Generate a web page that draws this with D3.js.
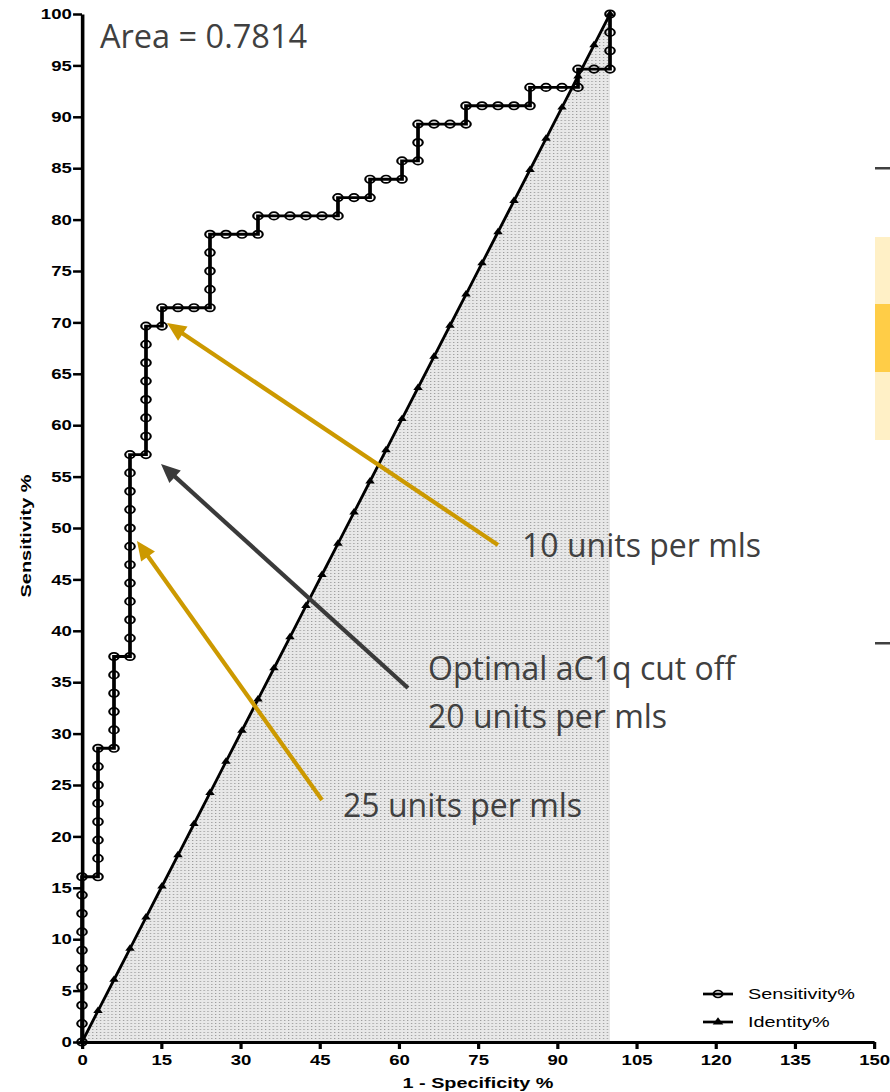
<!DOCTYPE html>
<html>
<head>
<meta charset="utf-8">
<script src="https://cdn.jsdelivr.net/npm/d3@7"></script>
<style>
  html, body { margin: 0; padding: 0; background: #ffffff; }
  svg { display: block; }
</style>
</head>
<body>
<svg id="chart" width="890" height="1092"></svg>
<script>
// ---------------- DATA ----------------
// ROC curve points (1 - Specificity %, Sensitivity %)
const rocFpr = [
  0,0,0,0,0,0,0,0,0,0,
  3.03,3.03,3.03,3.03,3.03,3.03,3.03,3.03,
  6.06,6.06,6.06,6.06,6.06,6.06,
  9.09,9.09,9.09,9.09,9.09,9.09,9.09,9.09,9.09,9.09,9.09,9.09,
  12.12,12.12,12.12,12.12,12.12,12.12,12.12,12.12,
  15.15,15.15,
  18.18,21.21,24.24,
  24.24,24.24,24.24,24.24,
  27.27,30.30,33.33,
  33.33,
  36.36,39.39,42.42,45.45,48.48,
  48.48,
  51.52,54.55,
  54.55,
  57.58,60.61,
  60.61,
  63.64,
  63.64,63.64,
  66.67,69.70,72.73,
  72.73,
  75.76,78.79,81.82,84.85,
  84.85,
  87.88,90.91,93.94,
  93.94,
  96.97,100,
  100,100,100
];
const rocSens = [
  0,1.79,3.57,5.36,7.14,8.93,10.71,12.5,14.29,16.07,
  16.07,17.86,19.64,21.43,23.21,25,26.79,28.57,
  28.57,30.36,32.14,33.93,35.71,37.5,
  37.5,39.29,41.07,42.86,44.64,46.43,48.21,50,51.79,53.57,55.36,57.14,
  57.14,58.93,60.71,62.5,64.29,66.07,67.86,69.64,
  69.64,71.43,
  71.43,71.43,71.43,
  73.21,75,76.79,78.57,
  78.57,78.57,78.57,
  80.36,
  80.36,80.36,80.36,80.36,80.36,
  82.14,
  82.14,82.14,
  83.93,
  83.93,83.93,
  85.71,
  85.71,
  87.5,89.29,
  89.29,89.29,89.29,
  91.07,
  91.07,91.07,91.07,91.07,
  92.86,
  92.86,92.86,92.86,
  94.64,
  94.64,94.64,
  96.43,98.21,100
];
// Identity (reference) line points
const identityPct = [
  0,3.03,6.06,9.09,12.12,15.15,18.18,21.21,24.24,27.27,30.30,33.33,
  36.36,39.39,42.42,45.45,48.48,51.52,54.55,57.58,60.61,63.64,66.67,
  69.70,72.73,75.76,78.79,81.82,84.85,87.88,90.91,93.94,96.97,100
];
const xTicks = [0,15,30,45,60,75,90,105,120,135,150];
const yTicks = [0,5,10,15,20,25,30,35,40,45,50,55,60,65,70,75,80,85,90,95,100];
const seriesNames = ["Sensitivity%", "Identity%"];
const areaLabel = "Area = 0.7814";
const annotations = ["10 units per mls", "Optimal aC1q cut off", "20 units per mls", "25 units per mls"];

// ---------------- DRAW ----------------
const SX = 1.28; // the original figure is stretched horizontally
const svg = d3.select("#chart");
const defs = svg.append("defs");
const pat = defs.append("pattern").attr("id", "dots")
  .attr("patternUnits", "userSpaceOnUse").attr("width", 3).attr("height", 3);
pat.append("rect").attr("width", 3).attr("height", 3).attr("fill", "#e8e8e8");
pat.append("rect").attr("width", 1).attr("height", 1).attr("fill", "#9a9a9a");

const g = svg.append("g").attr("transform", `scale(${SX},1)`);

const x = d3.scaleLinear().domain([0, 150]).range([82 / SX, 874 / SX]);
const y = d3.scaleLinear().domain([0, 100]).range([1042, 14]);

const rocData = rocFpr.map((v, i) => ({x: v, y: rocSens[i]}));
const idData = identityPct.map(v => ({x: v, y: v}));

// shaded area under identity
g.append("path")
  .datum(idData)
  .attr("fill", "url(#dots)")
  .attr("d", d3.area().x(d => x(d.x)).y0(y(0)).y1(d => y(d.y)));

// identity line
g.append("path")
  .datum(idData)
  .attr("fill", "none").attr("stroke", "#000").attr("stroke-width", 2.3)
  .attr("d", d3.line().x(d => x(d.x)).y(d => y(d.y)));
g.selectAll(".tri").data(idData).join("path")
  .attr("class", "tri")
  .attr("transform", d => `translate(${x(d.x)},${y(d.y)})`)
  .attr("d", d3.symbol(d3.symbolTriangle, 24))
  .attr("fill", "#000");

// ROC line
g.append("path")
  .datum(rocData)
  .attr("fill", "none").attr("stroke", "#000").attr("stroke-width", 2.9)
  .attr("stroke-linejoin", "miter")
  .attr("d", d3.line().x(d => x(d.x)).y(d => y(d.y)));
g.selectAll(".circ").data(rocData).join("circle")
  .attr("class", "circ")
  .attr("cx", d => x(d.x)).attr("cy", d => y(d.y)).attr("r", 3.7)
  .attr("fill", "none").attr("stroke", "#000").attr("stroke-width", 1.7);

// axes
const fontAx = "'Liberation Sans', Arial, sans-serif";
const yAxis = g.append("g")
  .attr("transform", `translate(${x(0)},0)`)
  .call(d3.axisLeft(y).tickValues(yTicks).tickSize(7).tickPadding(1).tickSizeOuter(0));
const xAxis = g.append("g")
  .attr("transform", `translate(0,${y(0)})`)
  .call(d3.axisBottom(x).tickValues(xTicks).tickSize(7).tickPadding(6).tickSizeOuter(0));
[xAxis, yAxis].forEach(a => {
  a.attr("font-family", fontAx).attr("font-size", 14.5).attr("font-weight", "bold");
  a.select(".domain").attr("stroke", "#000").attr("stroke-width", 2.8);
  a.selectAll(".tick line").attr("stroke", "#000").attr("stroke-width", 2.5);
  a.selectAll(".tick text").attr("fill", "#000");
});

// axis titles
g.append("text")
  .attr("transform", `translate(${31 / SX},536) rotate(-90)`)
  .attr("text-anchor", "middle")
  .attr("font-family", fontAx).attr("font-weight", "bold").attr("font-size", 12)
  .attr("textLength", 123).attr("lengthAdjust", "spacingAndGlyphs")
  .text("Sensitivity %");
g.append("text")
  .attr("x", x(75)).attr("y", 1088)
  .attr("text-anchor", "middle")
  .attr("font-family", fontAx).attr("font-weight", "bold").attr("font-size", 15.5)
  .text("1 - Specificity %");

// legend
const lg = g.append("g");
const legRows = [{name: seriesNames[0], cy: 994, tb: 999, sym: "circle"},
                 {name: seriesNames[1], cy: 1022, tb: 1027, sym: "tri"}];
legRows.forEach(r => {
  lg.append("line").attr("x1", 703 / SX).attr("x2", 733 / SX)
    .attr("y1", r.cy).attr("y2", r.cy).attr("stroke", "#000").attr("stroke-width", 2.7);
  if (r.sym === "circle") {
    lg.append("circle").attr("cx", 718 / SX).attr("cy", r.cy).attr("r", 3.5)
      .attr("fill", "none").attr("stroke", "#000").attr("stroke-width", 1.7);
  } else {
    lg.append("path").attr("transform", `translate(${718 / SX},${r.cy})`)
      .attr("d", d3.symbol(d3.symbolTriangle, 30)).attr("fill", "#000");
  }
  lg.append("text").attr("x", 748 / SX).attr("y", r.tb)
    .attr("font-family", fontAx).attr("font-size", 15.5).attr("fill", "#000")
    .text(r.name);
});

// ---------------- ANNOTATIONS (slide overlay) ----------------
const annFont = "'Open Sans', 'Noto Sans', sans-serif";
const annColor = "#404040";
svg.append("text").attr("x", 100).attr("y", 48)
  .attr("font-family", annFont).attr("font-size", 32.5).attr("fill", annColor)
  .text(areaLabel);

function arrow(x1, y1, x2, y2, color) {
  const dx = x2 - x1, dy = y2 - y1, L = Math.hypot(dx, dy);
  const ux = dx / L, uy = dy / L, hl = 19, hw = 8.5;
  const bx = x2 - ux * hl, by = y2 - uy * hl;
  svg.append("line").attr("x1", x1).attr("y1", y1)
    .attr("x2", bx + ux * 2).attr("y2", by + uy * 2)
    .attr("stroke", color).attr("stroke-width", 4.2);
  svg.append("polygon")
    .attr("points", [[x2, y2], [bx - uy * hw, by + ux * hw], [bx + uy * hw, by - ux * hw]]
      .map(p => p.join(",")).join(" "))
    .attr("fill", color);
}
arrow(498, 545, 167, 323, "#CC9900");
arrow(408, 688, 161, 464, "#3a3a3a");
arrow(322, 800, 137, 541, "#CC9900");

const annPos = [[522, 557], [428, 680], [428, 728], [343, 817]];
annotations.forEach((t, i) => {
  svg.append("text").attr("x", annPos[i][0]).attr("y", annPos[i][1])
    .attr("font-family", annFont).attr("font-size", 32).attr("fill", annColor)
    .text(t);
});

// slide-edge artifacts on the right
svg.append("rect").attr("x", 875).attr("y", 237).attr("width", 15).attr("height", 203).attr("fill", "#fff0c6");
svg.append("rect").attr("x", 875).attr("y", 304).attr("width", 15).attr("height", 68).attr("fill", "#ffcd47");
svg.append("rect").attr("x", 875).attr("y", 167).attr("width", 15).attr("height", 2.5).attr("fill", "#404040");
svg.append("rect").attr("x", 875).attr("y", 642).attr("width", 15).attr("height", 2.5).attr("fill", "#404040");
</script>
</body>
</html>
